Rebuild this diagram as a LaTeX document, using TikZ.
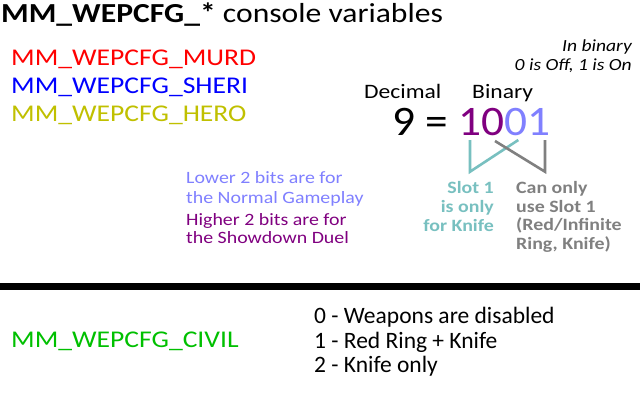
\documentclass[tikz,border=0pt]{standalone}
\usepackage{fontspec}
\setmainfont{Carlito}[FakeStretch=1.15]
\newfontfamily\plainfont{Carlito}
\newfontfamily\numfont{Carlito}[FakeStretch=1.08]
\definecolor{wred}{HTML}{FF0000}
\definecolor{wblue}{HTML}{0000FF}
\definecolor{wolive}{HTML}{C0C000}
\definecolor{wgreen}{HTML}{00C000}
\definecolor{wpurple}{HTML}{800080}
\definecolor{wlblue}{HTML}{8080FF}
\definecolor{wteal}{HTML}{78C0C0}
\definecolor{wgray}{HTML}{808080}
\begin{document}
\begin{tikzpicture}[x=1pt,y=-1pt,
  txt/.style={inner sep=0pt, anchor=base west},
  rtxt/.style={inner sep=0pt, anchor=base east},
  varfont/.style={font=\fontsize{24}{28}\selectfont},
  notefont/.style={font=\fontsize{17.3}{20}\selectfont},
  slotfont/.style={font=\fontsize{17.3}{20}\selectfont\bfseries},
  optfont/.style={font=\plainfont\fontsize{23.5}{28}\selectfont},
  bitline/.style={line width=2.6pt}
]
\fill[white] (0,0) rectangle (640,400);
\useasboundingbox (0,0) rectangle (640,400);

% title
\node[txt, font=\fontsize{27.5}{32}\selectfont] (title) at (1,22.5)
  {\textbf{MM\_WEPCFG\_*} console variables};

% variables
\node[txt, varfont, text=wred] (murd) at (11,65.7) {MM\_WEPCFG\_MURD};
\node[txt, varfont, text=wblue] (sheri) at (11,93.8) {MM\_WEPCFG\_SHERI};
\node[txt, varfont, text=wolive] (hero) at (11,121.7) {MM\_WEPCFG\_HERO};

% binary note
\node[rtxt, font=\fontsize{17}{20}\selectfont\itshape] (inbin) at (632,51.7) {In binary};
\node[rtxt, font=\fontsize{17}{20}\selectfont\itshape] (offon) at (632,70.5) {0 is Off, 1 is On};

% decimal / binary
\node[txt, font=\fontsize{20.5}{24}\selectfont] (dec) at (364,98) {Decimal};
\node[txt, font=\fontsize{20.5}{24}\selectfont] (bin) at (472,98) {Binary};
\node[txt, font=\numfont\fontsize{42}{48}\selectfont] (num) at (392,135)
  {9 = \textcolor{wpurple}{10}\textcolor{wlblue}{01}};

% bit lines
\coordinate (ta) at (470,140);
\coordinate (tb) at (470,171.7);
\coordinate (tc) at (518.3,140);
\coordinate (ga) at (495,141);
\coordinate (gb) at (545,171.7);
\coordinate (gc) at (545,140);
\draw[bitline, wteal] (ta) -- (tb) -- (tc);
\draw[bitline, wgray] (ga) -- (gb) -- (gc);

% left notes
\node[txt, notefont, text=wlblue] (low1) at (186,183.5) {Lower 2 bits are for};
\node[txt, notefont, text=wlblue] (low2) at (186,203) {the Normal Gameplay};
\node[txt, notefont, text=wpurple] (hi1) at (186,225.8) {Higher 2 bits are for};
\node[txt, notefont, text=wpurple] (hi2) at (186,243.8) {the Showdown Duel};

% slot notes
\node[rtxt, slotfont, text=wteal] (s1) at (494,193.3) {Slot 1};
\node[rtxt, slotfont, text=wteal] (s2) at (494,212.7) {is only};
\node[rtxt, slotfont, text=wteal] (s3) at (494,231.7) {for Knife};
\node[txt, slotfont, text=wgray] (c1) at (516,193.3) {Can only};
\node[txt, slotfont, text=wgray] (c2) at (516,212) {use Slot 1};
\node[txt, slotfont, text=wgray] (c3) at (516,230.5) {(Red/Infinite};
\node[txt, slotfont, text=wgray] (c4) at (516,249.5) {Ring, Knife)};

% separator bar
\fill[black] (0,283) rectangle (640,290);

% civil
\node[txt, varfont, text=wgreen] (civil) at (11,347.3) {MM\_WEPCFG\_CIVIL};
\node[txt, optfont] (o1) at (314,323.3) {0 - Weapons are disabled};
\node[txt, optfont] (o2) at (314,348) {1 - Red Ring + Knife};
\node[txt, optfont] (o3) at (314,372.5) {2 - Knife only};
\end{tikzpicture}
\end{document}
